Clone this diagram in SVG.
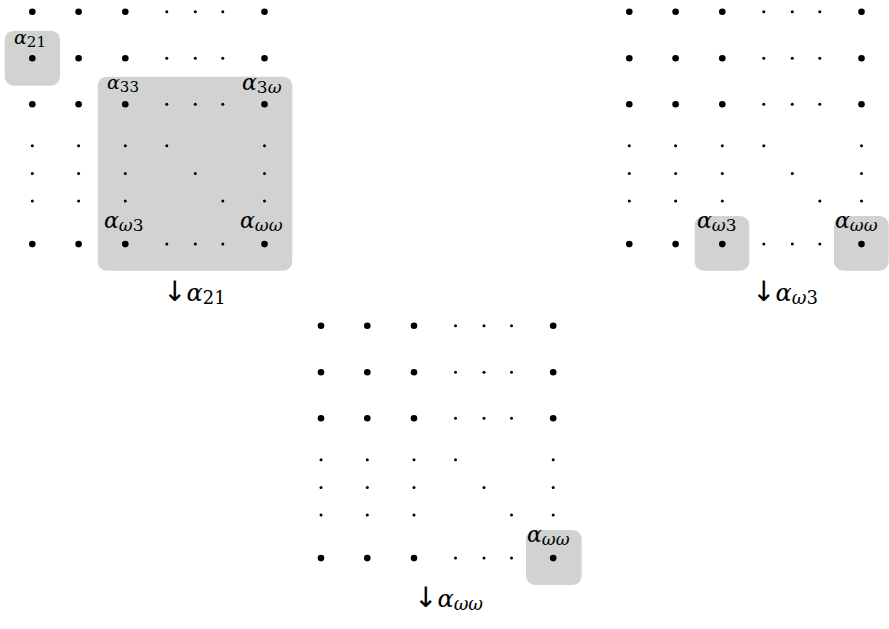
<svg xmlns="http://www.w3.org/2000/svg" xmlns:xlink="http://www.w3.org/1999/xlink" width="889" height="629" viewBox="0 0 889 629">
<style>
.box{fill:#d1d3d2}
.b{fill:#000}
.lbl{font-family:"DejaVu Serif","Liberation Serif",serif;fill:#000}
.a{font-style:italic}
.w{font-style:italic}
.arr{font-family:"DejaVu Sans","Liberation Sans",sans-serif;font-size:28px}
</style>
<defs>
<g id="grid">
<circle class="b" cx="0" cy="0" r="3.3"/><circle class="b" cx="46.3" cy="0" r="3.3"/><circle class="b" cx="93" cy="0" r="3.3"/><circle class="b" cx="232.2" cy="0" r="3.3"/>
<circle class="b" cx="0" cy="46.5" r="3.3"/><circle class="b" cx="46.3" cy="46.5" r="3.3"/><circle class="b" cx="93" cy="46.5" r="3.3"/><circle class="b" cx="232.2" cy="46.5" r="3.3"/>
<circle class="b" cx="0" cy="92.6" r="3.3"/><circle class="b" cx="46.3" cy="92.6" r="3.3"/><circle class="b" cx="93" cy="92.6" r="3.3"/><circle class="b" cx="232.2" cy="92.6" r="3.3"/>
<circle class="b" cx="0" cy="232.4" r="3.3"/><circle class="b" cx="46.3" cy="232.4" r="3.3"/><circle class="b" cx="93" cy="232.4" r="3.3"/><circle class="b" cx="232.2" cy="232.4" r="3.3"/>
<circle class="b" cx="134.5" cy="0" r="1.5"/><circle class="b" cx="163" cy="0" r="1.5"/><circle class="b" cx="190.5" cy="0" r="1.5"/>
<circle class="b" cx="134.5" cy="46.5" r="1.5"/><circle class="b" cx="163" cy="46.5" r="1.5"/><circle class="b" cx="190.5" cy="46.5" r="1.5"/>
<circle class="b" cx="134.5" cy="92.6" r="1.5"/><circle class="b" cx="163" cy="92.6" r="1.5"/><circle class="b" cx="190.5" cy="92.6" r="1.5"/>
<circle class="b" cx="134.5" cy="232.4" r="1.5"/><circle class="b" cx="163" cy="232.4" r="1.5"/><circle class="b" cx="190.5" cy="232.4" r="1.5"/>
<circle class="b" cx="0" cy="134" r="1.5"/><circle class="b" cx="46.3" cy="134" r="1.5"/><circle class="b" cx="93" cy="134" r="1.5"/><circle class="b" cx="232.2" cy="134" r="1.5"/>
<circle class="b" cx="0" cy="161.7" r="1.5"/><circle class="b" cx="46.3" cy="161.7" r="1.5"/><circle class="b" cx="93" cy="161.7" r="1.5"/><circle class="b" cx="232.2" cy="161.7" r="1.5"/>
<circle class="b" cx="0" cy="189.3" r="1.5"/><circle class="b" cx="46.3" cy="189.3" r="1.5"/><circle class="b" cx="93" cy="189.3" r="1.5"/><circle class="b" cx="232.2" cy="189.3" r="1.5"/>
<circle class="b" cx="134.5" cy="134" r="1.5"/><circle class="b" cx="163" cy="161.7" r="1.5"/><circle class="b" cx="190.5" cy="189.3" r="1.5"/>
</g>
</defs>

<g id="panel-top-left">
<rect class="box" x="4.7" y="30.7" width="55.3" height="55" rx="9"/>
<rect class="box" x="97.7" y="76.7" width="194.6" height="194" rx="9"/>
<use xlink:href="#grid" href="#grid" x="32.3" y="11.7"/>
<text class="lbl" x="14" y="44" font-size="19"><tspan class="a">α</tspan><tspan font-size="15" dy="3">21</tspan></text>
<text class="lbl" x="107" y="89" font-size="19"><tspan class="a">α</tspan><tspan font-size="15" dy="3">33</tspan></text>
<text class="lbl" x="242" y="90" font-size="22"><tspan class="a">α</tspan><tspan font-size="17" dy="3">3<tspan class="w">ω</tspan></tspan></text>
<text class="lbl" x="104" y="228" font-size="22"><tspan class="a">α</tspan><tspan font-size="17" dy="3"><tspan class="w">ω</tspan>3</tspan></text>
<text class="lbl" x="240" y="228" font-size="22"><tspan class="a">α</tspan><tspan font-size="17" dy="3" class="w">ωω</tspan></text>
<text class="lbl" x="163" y="301" font-size="24"><tspan class="arr">↓</tspan><tspan class="a">α</tspan><tspan font-size="18" dy="3">21</tspan></text>
</g>

<g id="panel-top-right">
<rect class="box" x="694.7" y="216" width="54.6" height="54.7" rx="9"/>
<rect class="box" x="834" y="216" width="54.7" height="54.7" rx="9"/>
<use xlink:href="#grid" href="#grid" x="629.3" y="11.7"/>
<text class="lbl" x="697" y="228" font-size="22"><tspan class="a">α</tspan><tspan font-size="17" dy="3"><tspan class="w">ω</tspan>3</tspan></text>
<text class="lbl" x="835" y="228" font-size="22"><tspan class="a">α</tspan><tspan font-size="17" dy="3" class="w">ωω</tspan></text>
<text class="lbl" x="752" y="301" font-size="24"><tspan class="arr">↓</tspan><tspan class="a">α</tspan><tspan font-size="18" dy="3"><tspan class="w">ω</tspan>3</tspan></text>
</g>

<g id="panel-bottom">
<rect class="box" x="526" y="530" width="55.7" height="55" rx="9"/>
<use xlink:href="#grid" href="#grid" x="321" y="325.7"/>
<text class="lbl" x="527" y="542" font-size="22"><tspan class="a">α</tspan><tspan font-size="17" dy="3" class="w">ωω</tspan></text>
<text class="lbl" x="414" y="607" font-size="24"><tspan class="arr">↓</tspan><tspan class="a">α</tspan><tspan font-size="18" dy="3" class="w">ωω</tspan></text>
</g>
</svg>
